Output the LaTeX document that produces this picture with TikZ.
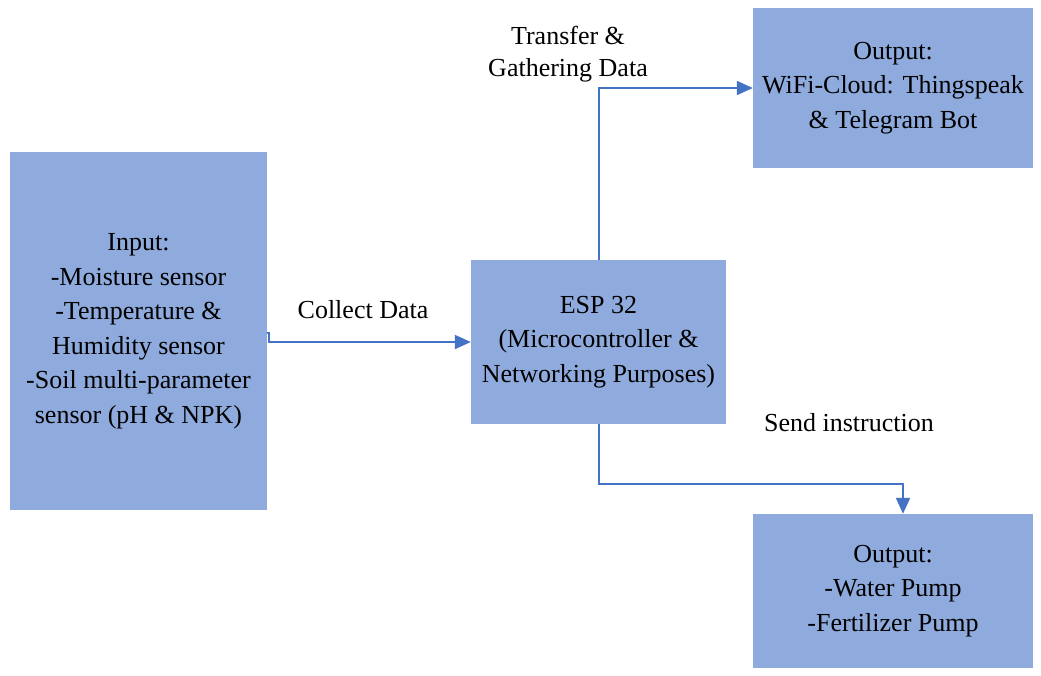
\documentclass[tikz,border=0pt]{standalone}
\usepackage{fontspec}
\setmainfont{LiberationSerif}[Extension=.ttf, UprightFont=*-Regular, BoldFont=*-Bold, ItalicFont=*-Italic, BoldItalicFont=*-BoldItalic]
\usetikzlibrary{arrows.meta}
\definecolor{boxfill}{HTML}{8FAADC}
\definecolor{linkblue}{HTML}{4472C4}
\tikzset{
  block/.style={fill=boxfill, draw=none, align=center, inner sep=0pt,
    font=\fontsize{26}{34.5}\selectfont},
  linklabel/.style={align=center, inner sep=0pt, font=\fontsize{26}{32}\selectfont},
  link/.style={draw=linkblue, line width=2pt,
    -{Triangle[length=16pt,width=14pt]}}
}
\begin{document}
\begin{tikzpicture}[x=1pt,y=-1pt]
  \useasboundingbox (0,0) rectangle (1041,675);

  % blocks
  \node[block, minimum width=257pt, minimum height=358pt] (input) at (138.5,331)
    {Input:\\-Moisture sensor\\-Temperature \&\\Humidity sensor\\-Soil multi-parameter\\sensor (pH \& NPK)};
  \node[block, minimum width=255pt, minimum height=164pt] (esp) at (598.5,342)
    {ESP 32\\(Microcontroller \&\\Networking Purposes)};
  \node[block, minimum width=280pt, minimum height=160pt] (cloud) at (893,88)
    {Output:\\WiFi-Cloud: Thingspeak\\\& Telegram Bot};
  \node[block, minimum width=280pt, minimum height=154pt] (pump) at (893,591)
    {Output:\\-Water Pump\\-Fertilizer Pump};

  % connectors
  \draw[link] ([yshift=-2pt]input.east) -- ++(2,0) |- (esp.west);
  \draw[link] (esp.north) |- (cloud.west);
  \coordinate (bend) at (903,484);
  \draw[link] (esp.south) |- (bend) -- (bend |- pump.north);

  % connector labels
  \node[linklabel] (lcollect) at (363,310) {Collect Data};
  \node[linklabel] (ltransfer) at (568,54) {Transfer \&\\Gathering Data};
  \node[linklabel] (lsend) at (849,423) {Send instruction};
\end{tikzpicture}
\end{document}
